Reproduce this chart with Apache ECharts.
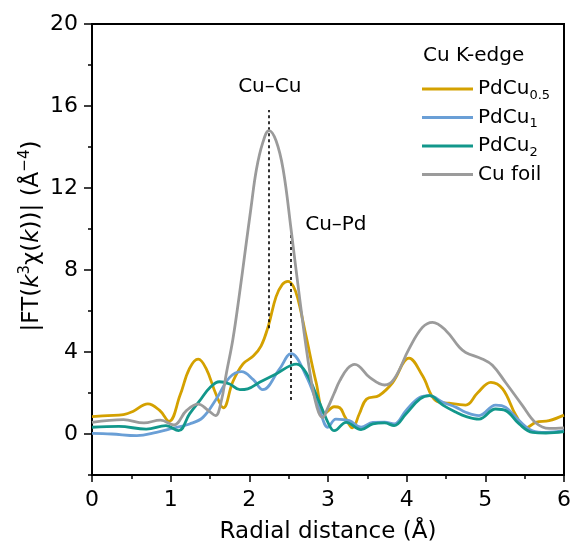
<!DOCTYPE html>
<html>
<head>
<meta charset="utf-8">
<script src="https://cdn.jsdelivr.net/npm/echarts@6/dist/echarts.min.js"></script>
<style>html,body{margin:0;padding:0;background:#fff}#c{width:574px;height:551px}</style>
</head>
<body>
<div id="c"></div>
<script>
// ---- data (radial distance in Å, |FT| in Å^-4) ----
const seriesNames = ['PdCu0.5', 'PdCu1', 'PdCu2', 'Cu foil'];
const seriesColors = ['#D4A100', '#6A9FD6', '#12978B', '#9B9B9B'];

const pdcu05R = [0, 0.2, 0.4, 0.52, 0.71, 0.86, 0.98, 1.12, 1.24, 1.35, 1.45, 1.58, 1.67, 1.79, 1.92, 2.05, 2.15, 2.24, 2.34, 2.42, 2.49, 2.56, 2.62, 2.72, 2.85, 2.96, 3.08, 3.15, 3.22, 3.31, 3.4, 3.49, 3.65, 3.82, 4.03, 4.2, 4.37, 4.54, 4.75, 4.9, 5.07, 5.22, 5.39, 5.52, 5.64, 5.81, 6.0];
const pdcu05Y = [0.85, 0.9, 0.95, 1.1, 1.47, 1.15, 0.62, 1.9, 3.2, 3.65, 3.2, 1.9, 1.28, 2.55, 3.42, 3.8, 4.3, 5.25, 6.7, 7.3, 7.45, 7.2, 6.55, 4.8, 2.5, 1.0, 1.33, 1.28, 0.8, 0.3, 1.0, 1.7, 1.88, 2.5, 3.7, 2.85, 1.63, 1.5, 1.41, 2.0, 2.52, 2.2, 0.9, 0.3, 0.57, 0.65, 0.92];

const pdcu1R = [0, 0.25, 0.57, 0.82, 1.03, 1.24, 1.41, 1.58, 1.75, 1.9, 2.05, 2.17, 2.38, 2.53, 2.72, 2.89, 3.0, 3.1, 3.27, 3.42, 3.57, 3.72, 3.84, 3.99, 4.17, 4.29, 4.46, 4.63, 4.75, 4.92, 5.13, 5.26, 5.43, 5.6, 5.77, 6.0];
const pdcu1Y = [0.03, 0.0, -0.08, 0.08, 0.28, 0.49, 0.81, 1.71, 2.76, 3.04, 2.65, 2.16, 3.15, 3.92, 2.85, 1.22, 0.33, 0.73, 0.65, 0.33, 0.57, 0.58, 0.49, 1.14, 1.79, 1.87, 1.55, 1.3, 1.06, 0.9, 1.41, 1.3, 0.65, 0.16, 0.08, 0.16];

const pdcu2R = [0, 0.34, 0.69, 0.94, 1.1, 1.24, 1.37, 1.5, 1.62, 1.75, 1.88, 1.98, 2.13, 2.34, 2.6, 2.72, 2.89, 3.02, 3.08, 3.23, 3.42, 3.57, 3.72, 3.84, 3.99, 4.17, 4.29, 4.46, 4.63, 4.75, 4.92, 5.13, 5.26, 5.43, 5.6, 5.77, 6.0];
const pdcu2Y = [0.33, 0.37, 0.24, 0.41, 0.16, 0.98, 1.63, 2.27, 2.55, 2.44, 2.16, 2.2, 2.52, 2.93, 3.41, 3.0, 1.55, 0.4, 0.16, 0.57, 0.21, 0.49, 0.54, 0.41, 0.98, 1.71, 1.87, 1.41, 1.06, 0.86, 0.73, 1.22, 1.14, 0.49, 0.08, 0.05, 0.12];

const cuFoilR = [0, 0.4, 0.66, 0.87, 1.04, 1.2, 1.35, 1.48, 1.57, 1.64, 1.71, 1.79, 1.87, 1.95, 2.02, 2.09, 2.17, 2.25, 2.34, 2.43, 2.53, 2.64, 2.77, 2.86, 2.93, 3.0, 3.08, 3.15, 3.25, 3.34, 3.53, 3.72, 3.84, 4.03, 4.2, 4.33, 4.5, 4.67, 4.75, 4.96, 5.09, 5.26, 5.47, 5.64, 5.81, 6.0];
const cuFoilY = [0.57, 0.7, 0.54, 0.68, 0.44, 1.14, 1.46, 1.14, 0.9, 1.55, 3.0, 4.6, 6.7, 9.0, 11.0, 12.9, 14.2, 14.8, 14.3, 12.9, 10.0, 6.6, 3.0, 1.3, 0.8, 1.3, 2.0, 2.6, 3.2, 3.4, 2.76, 2.39, 2.68, 4.15, 5.2, 5.45, 5.04, 4.23, 3.98, 3.66, 3.35, 2.5, 1.4, 0.55, 0.27, 0.3];

const xTicks = [0, 1, 2, 3, 4, 5, 6];
const yMajorTicks = [0, 4, 8, 12, 16, 20];
const yMinorTicks = [-2, 2, 6, 10, 14, 18];

// annotations: dashed guide lines [x, yFrom, yTo] and labels [x, y, text]
const cuCuLine = [2.25, 5.16, 15.8];
const cuPdLine = [2.525, 1.66, 9.8];
const annotationLabels = [[2.26, 16.95, 'Cu–Cu'], [3.1, 10.2, 'Cu–Pd']];

const legendTitle = 'Cu K-edge';
const legendLabels = {
  'PdCu0.5': '{a|PdCu}{s|0.5}',
  'PdCu1': '{a|PdCu}{s|1}',
  'PdCu2': '{a|PdCu}{s|2}',
  'Cu foil': '{a|Cu foil}'
};

// ---- chart ----
const FONT = 'DejaVu Sans';
const zip = (xs, ys) => xs.map((x, i) => [x, ys[i]]);
const allR = [pdcu05R, pdcu1R, pdcu2R, cuFoilR];
const allY = [pdcu05Y, pdcu1Y, pdcu2Y, cuFoilY];

const chart = echarts.init(document.getElementById('c'), null, { renderer: 'canvas' });

const series = seriesNames.map((name, i) => ({
  name: name,
  type: 'line',
  data: zip(allR[i], allY[i]),
  smooth: 0.4,
  symbol: 'none',
  clip: true,
  lineStyle: { color: seriesColors[i], width: 2.8 },
  itemStyle: { color: seriesColors[i] },
  z: 3 + i
}));

series[3].markLine = {
  silent: true,
  symbol: ['none', 'none'],
  label: { show: false },
  lineStyle: { color: '#000', width: 1.6, type: [3, 3] },
  data: [
    [{ coord: [cuCuLine[0], cuCuLine[1]] }, { coord: [cuCuLine[0], cuCuLine[2]] }],
    [{ coord: [cuPdLine[0], cuPdLine[1]] }, { coord: [cuPdLine[0], cuPdLine[2]] }]
  ]
};
series[3].markPoint = {
  silent: true,
  symbol: 'circle',
  symbolSize: 0,
  label: {
    show: true, position: 'inside', color: '#000', fontFamily: FONT, fontSize: 20,
    formatter: p => p.name
  },
  data: annotationLabels.map(a => ({ name: a[2], coord: [a[0], a[1]] }))
};

const option = {
  backgroundColor: '#fff',
  animation: false,
  title: {
    text: legendTitle,
    left: 423, top: 46, padding: 0,
    textStyle: { fontFamily: FONT, fontSize: 20, fontWeight: 'normal', color: '#000' }
  },
  legend: {
    orient: 'vertical',
    left: 422, top: 79, padding: 0,
    icon: 'rect',
    itemWidth: 51, itemHeight: 3, itemGap: 5.5,
    data: seriesNames,
    formatter: n => legendLabels[n],
    textStyle: {
      color: '#000', fontFamily: FONT, fontSize: 20, padding: [0, 0, 0, 0],
      rich: {
        a: { fontFamily: FONT, fontSize: 20, lineHeight: 26, color: '#000' },
        s: { fontFamily: FONT, fontSize: 13, lineHeight: 13, verticalAlign: 'bottom', color: '#000' }
      }
    }
  },
  grid: {
    left: 92, right: 9, top: 24, bottom: 76,
    show: true, borderColor: '#000', borderWidth: 2, backgroundColor: '#fff'
  },
  xAxis: {
    type: 'value', min: xTicks[0], max: xTicks[xTicks.length - 1], interval: 1,
    name: 'Radial distance (Å)', nameLocation: 'middle', nameGap: 46,
    nameTextStyle: { fontFamily: FONT, fontSize: 23, color: '#000' },
    axisLine: { show: true, onZero: false, lineStyle: { color: '#000', width: 2 } },
    axisTick: { show: true, length: 7, lineStyle: { color: '#000', width: 1.5 } },
    minorTick: { show: true, splitNumber: 2, length: 4, lineStyle: { color: '#000', width: 1.5 } },
    axisLabel: { fontFamily: FONT, fontSize: 22, color: '#000', margin: 14 },
    splitLine: { show: false }
  },
  yAxis: [{
    type: 'value', min: -2, max: 20,
    axisLine: { show: true, onZero: false, lineStyle: { color: '#000', width: 2 } },
    axisTick: { show: true, length: 8, customValues: yMajorTicks, lineStyle: { color: '#000', width: 1.5 } },
    axisLabel: { fontFamily: FONT, fontSize: 22, color: '#000', margin: 14, customValues: yMajorTicks },
    splitLine: { show: false }
  }, {
    type: 'value', min: -2, max: 20, position: 'left',
    axisLine: { show: false },
    axisTick: { show: true, length: 4, customValues: yMinorTicks, lineStyle: { color: '#000', width: 1.5 } },
    axisLabel: { show: false },
    splitLine: { show: false }
  }],
  graphic: [{
    type: 'text',
    x: 32, y: 236,
    rotation: Math.PI / 2,
    style: {
      text: '{n||FT(}{i|k}{p|3}{n|χ(}{i|k}{n|))| (Å}{p|−4}{n|)}',
      align: 'center', verticalAlign: 'middle',
      rich: {
        n: { fontFamily: FONT, fontSize: 23, lineHeight: 28, fill: '#000' },
        i: { fontFamily: FONT, fontSize: 23, lineHeight: 28, fontStyle: 'italic', fill: '#000' },
        p: { fontFamily: FONT, fontSize: 15, lineHeight: 15, verticalAlign: 'top', fill: '#000' }
      }
    }
  }],
  series: series
};

chart.setOption(option);
</script>
</body>
</html>
